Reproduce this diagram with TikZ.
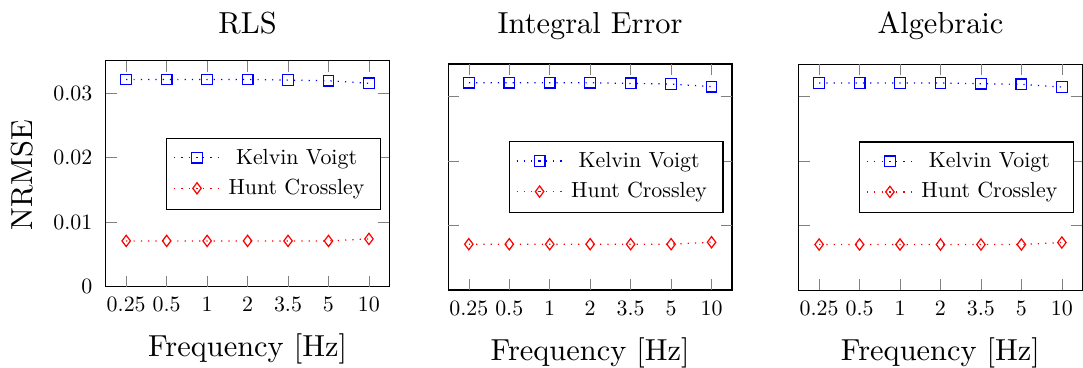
\documentclass[tikz,border=0pt]{standalone}
\usepackage{tikz}
\usetikzlibrary{plotmarks}

\tikzset{
  frame/.style={draw=black, line width=0.4pt},
  tickmark/.style={very thin, gray},
  ticklabel/.style={inner sep=0pt, scale=0.72},
  kvline/.style={blue, dotted, mark=square, mark size=1.75pt, mark options={solid}},
  hcline/.style={red, dotted, mark=diamond, mark size=1.85pt, mark options={solid}},
}

\begin{document}
\begin{tikzpicture}[x=0.329pt, y=-0.329pt]
  \useasboundingbox (0,0) rectangle (1083,367);

  % three panels, same axes
  \foreach \px/\pb/\ttl [count=\k] in {105.7/286.7/RLS, 448.3/290/Integral Error, 798.6/290.3/Algebraic}{
    \begin{scope}[shift={(\px,\pb)}]
      % axis box
      \draw[frame] (0,0) rectangle (283.7,-226);
      \node[anchor=base] (title\k) at (141.85,{33.3-\pb}) {\ttl};
      \node[anchor=base] (xlabel\k) at (141.85,70) {Frequency [Hz]};

      % y ticks on both sides
      \foreach \v in {1,2,3}{
        \draw[tickmark] (0,-64.55*\v) -- ++(11,0);
        \draw[tickmark] (283.7,-64.55*\v) -- ++(-11,0);
      }

      % x ticks, bottom and top
      \foreach \f [count=\i] in {0.25,0.5,1,2,3.5,5,10}{
        \draw[tickmark] ({20.5+40.45*(\i-1)},0) -- ++(0,-11);
        \draw[tickmark] ({20.5+40.45*(\i-1)},-226) -- ++(0,11);
        \node[ticklabel, anchor=base] (xt\k\i) at ({20.5+40.45*(\i-1)},25) {\f};
      }

      % data: x = frequency index, y = NRMSE
      \begin{scope}[shift={(-19.95,0)}, x=13.31pt, y=2124pt]
        \draw[kvline] plot coordinates {(1,0.0321) (2,0.0321) (3,0.0321) (4,0.0321) (5,0.0320) (6,0.0319) (7,0.0315)};
        \draw[hcline] plot coordinates {(1,0.0071) (2,0.0071) (3,0.0071) (4,0.0071) (5,0.0071) (6,0.0071) (7,0.0074)};
      \end{scope}

      % legend
      \draw[frame, fill=white] (61,-148.4) rectangle (274.6,-77.5);
      \draw[kvline, mark repeat=2, mark phase=2] plot coordinates {(68.3,-129) (91.3,-129) (114.3,-129)};
      \draw[hcline, mark repeat=2, mark phase=2] plot coordinates {(68.3,-98.4) (91.3,-98.4) (114.3,-98.4)};
      \node[ticklabel, anchor=base] (kv\k) at (190.8,-122.7) {Kelvin Voigt};
      \node[ticklabel, anchor=base] (hc\k) at (190.8,-92.4) {Hunt Crossley};
    \end{scope}
  }

  % y axis labels, first panel only
  \begin{scope}[shift={(105.7,286.7)}]
    \foreach \v/\lbl in {0/0, 1/0.01, 2/0.02, 3/0.03}
      \node[ticklabel, anchor=east] (yt\v) at (-13,-64.55*\v) {\lbl};
    \node[rotate=90] (ylabel) at (-83.2,-111.7) {NRMSE};
  \end{scope}
\end{tikzpicture}
\end{document}
